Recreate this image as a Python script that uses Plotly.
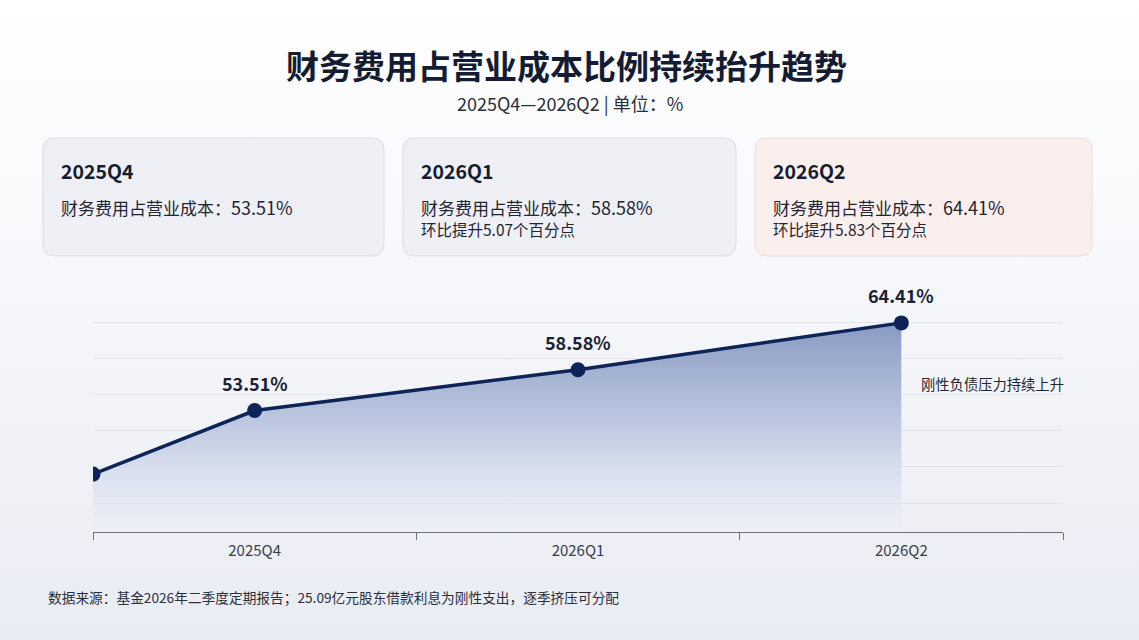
import base64
import plotly.graph_objects as go

# data
quarters = ["2025Q4", "2026Q1", "2026Q2"]
ratios = [53.51, 58.58, 64.41]
qoq_change = [None, 5.07, 5.83]
lead_in_value = 45.6          # unlabeled starting point at the left edge
note_text = "刚性负债压力持续上升"
title = "财务费用占营业成本比例持续抬升趋势"
subtitle = "2025Q4—2026Q2 | 单位：%"
source = "数据来源：基金2026年二季度定期报告；25.09亿元股东借款利息为刚性支出，逐季挤压可分配"

FONT = "Noto Sans CJK SC"
W_FIG, H_FIG = 1139, 640
L, R, T, B = 93, 76, 290, 108
PW, PH = W_FIG - L - R, H_FIG - T - B


def px_x(px):
    return (px - L) / PW


def px_y(py):
    return (H_FIG - B - py) / PH


def rounded_rect(x0, y0, x1, y1, r):
    pts = lambda x, y: f"{px_x(x):.5f},{px_y(y):.5f}"
    return (f"M{pts(x0 + r, y0)} L{pts(x1 - r, y0)} Q{pts(x1, y0)} {pts(x1, y0 + r)} "
            f"L{pts(x1, y1 - r)} Q{pts(x1, y1)} {pts(x1 - r, y1)} "
            f"L{pts(x0 + r, y1)} Q{pts(x0, y1)} {pts(x0, y1 - r)} "
            f"L{pts(x0, y0 + r)} Q{pts(x0, y0)} {pts(x0 + r, y0)} Z")


def note(px, py, text, size, color="#1f2533", xanchor="left"):
    fig.add_annotation(xref="paper", yref="paper", x=px_x(px), y=px_y(py), text=text,
                       showarrow=False, xanchor=xanchor, yanchor="middle",
                       font=dict(family=FONT, size=size, color=color))


xs = [-0.5] + list(range(len(quarters)))
ys = [lead_in_value] + ratios

fig = go.Figure()
fig.add_trace(go.Scatter(
    x=xs, y=ys, mode="lines+markers",
    line=dict(color="#0e2459", width=3.5),
    marker=dict(size=15, color="#0e2459"),
    fill="tozeroy",
    fillgradient=dict(type="vertical", start=38.4, stop=64.41,
                      colorscale=[[0, "rgba(238,241,248,0.5)"], [0.5, "rgba(186,198,224,0.9)"],
                                  [1, "rgba(136,154,193,1)"]]),
    hoverinfo="skip", showlegend=False,
))

# value labels above the quarter points
for i, v in enumerate(ratios):
    fig.add_annotation(x=i, y=v, text=f"<b>{v:.2f}%</b>", showarrow=False,
                       yshift=28, yanchor="middle",
                       font=dict(family=FONT, size=18, color="#1b2233"))

# background gradient
svg = ('<svg xmlns="http://www.w3.org/2000/svg" width="100" height="100" preserveAspectRatio="none">'
       '<defs><linearGradient id="g" x1="0" y1="0" x2="0" y2="1">'
       '<stop offset="0" stop-color="#ffffff"/><stop offset="0.45" stop-color="#f6f7fa"/>'
       '<stop offset="1" stop-color="#e9ecf3"/></linearGradient></defs>'
       '<rect width="100" height="100" fill="url(#g)"/></svg>')
bg = "data:image/svg+xml;base64," + base64.b64encode(svg.encode()).decode()
fig.add_layout_image(source=bg, xref="paper", yref="paper", x=px_x(0), y=px_y(0),
                     sizex=px_x(W_FIG) - px_x(0), sizey=px_y(0) - px_y(H_FIG),
                     sizing="stretch", xanchor="left", yanchor="top", layer="below")

# cards
cards = [(43, 384, "#eef0f6", "#d9dde7"), (403, 736, "#eef0f6", "#d9dde7"), (755, 1092, "#fbefee", "#efdcdc")]
for i, (cx0, cx1, fillc, linec) in enumerate(cards):
    fig.add_shape(type="path", xref="paper", yref="paper", layer="below",
                  path=rounded_rect(cx0, 138, cx1, 256, 12),
                  fillcolor=fillc, line=dict(color=linec, width=1))
    note(cx0 + 16, 170, f"<b>{quarters[i]}</b>", 19.5, "#161d30")
    note(cx0 + 16, 207, f"财务费用占营业成本：<span style='font-size:18px'>{ratios[i]:.2f}%</span>", 17)
    if qoq_change[i] is not None:
        note(cx0 + 16, 229, f"环比提升{qoq_change[i]:.2f}个百分点", 15.5)

# titles, note, source
note(566, 65, f"<b>{title}</b>", 33, "#141c33", "center")
note(570, 103, subtitle, 18, "#2a2f3a", "center")
note(919, 383, note_text, 14.3, "#222833")
note(46, 597, source, 13.7, "#2a2f3a")

fig.update_xaxes(range=[-0.5, 2.5], tickvals=list(range(len(quarters))), ticktext=quarters,
                 ticks="", showgrid=False, zeroline=False, showline=True, linecolor="#6b6f78",
                 linewidth=1.2, tickfont=dict(family=FONT, size=15, color="#3a3f4a"),
                 minor=dict(tickvals=[-0.5, 0.5, 1.5, 2.5], ticks="outside", ticklen=7,
                            tickcolor="#6b6f78", tickwidth=1.2, showgrid=False),
                 ticklabelstandoff=5)
fig.update_yaxes(range=[38.4, 68.5], tick0=42, dtick=4.5, showticklabels=False,
                 showgrid=True, gridcolor="rgba(215,220,230,0.6)", gridwidth=1, zeroline=False)

fig.update_layout(width=W_FIG, height=H_FIG, margin=dict(l=L, r=R, t=T, b=B),
                  paper_bgcolor="#f4f6f9", plot_bgcolor="rgba(0,0,0,0)",
                  font=dict(family=FONT), showlegend=False)

# drop the default 8px page margin so the figure fills the window
fig.write_html("out.html", config={"displayModeBar": False},
               post_script="document.body.style.margin='0';")
